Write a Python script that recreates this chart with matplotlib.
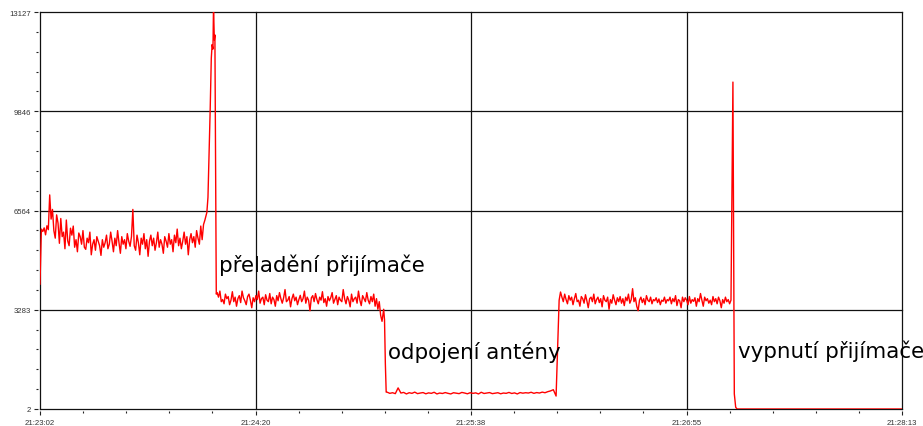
import numpy as np
import matplotlib
matplotlib.use("Agg")
import matplotlib.pyplot as plt
from matplotlib.ticker import AutoMinorLocator, FixedLocator

# Time axis in seconds from 21:23:02
t_start, t_end = 0.0, 311.0
x_tick_labels = ["21:23:02", "21:24:20", "21:25:38", "21:26:55", "21:28:13"]
v_min, v_max = 2, 13127
y_tick_labels = ["2", "3283", "6564", "9846", "13127"]

# Receiver on the original frequency (0.5 s samples from t=0)
seg1_t0, seg1_dt = 0.0, 0.5
seg1 = [4130, 5950, 5870, 5990, 5760, 6060, 5930, 7080, 6280, 6600,
        5900, 5650, 6420, 6150, 5480, 6300, 5700, 5850, 5300, 6250,
        5560, 5400, 5980, 5750, 6050, 5350, 5600, 5200, 5820, 5700,
        5450, 5900, 5350, 5280, 5650, 5500, 5850, 5100, 5450, 5600,
        5250, 5700, 5550, 5400, 5080, 5600, 5350, 5500, 5750, 5300,
        5450, 5850, 5550, 5200, 5650, 5400, 5900, 5500, 5150, 5700,
        5450, 5600, 5300, 5800, 5550, 5380, 5700, 6600, 5400, 5250,
        5750, 5500, 5100, 5650, 5450, 5800, 5300, 5600, 5050, 5550,
        5750, 5400, 5650, 5250, 5500, 5850, 5350, 5600, 5450, 5150,
        5700, 5550, 5350, 5800, 5450, 5600, 5200, 5750, 5500, 5950,
        5400, 5650, 5300, 5550, 5850, 5450, 5700, 5100, 5600, 5800,
        5500, 5700, 5350, 5900, 5650, 5450, 6050, 5600, 6100, 6250]

# Retuning burst
burst1_t = [60.2, 60.6, 61.0, 61.4, 61.8, 62.1, 62.4, 62.6, 62.9, 63.1, 63.4, 63.6]
burst1_v = [6500, 7000, 8400, 9900, 11600, 12050, 11900, 13300, 12200, 12370, 7000, 3800]

# Receiver retuned
seg2_t0, seg2_dt = 63.9, 0.5
seg2 = [3850, 3700, 3900, 3550, 3620, 3480, 3800, 3650, 3720, 3450,
        3600, 3880, 3550, 3700, 3400, 3650, 3750, 3520, 3900, 3680,
        3580, 3450, 3720, 3800, 3600, 3350, 3680, 3550, 3750, 3620,
        3900, 3500, 3650, 3700, 3450, 3780, 3600, 3550, 3820, 3480,
        3700, 3620, 3400, 3750, 3580, 3850, 3650, 3500, 3680, 3950,
        3550, 3600, 3720, 3380, 3650, 3800, 3580, 3700, 3450, 3620,
        3760, 3550, 3650, 3900, 3500, 3700, 3600, 3250, 3680, 3750,
        3550, 3820, 3620, 3480, 3700, 3600, 3880, 3520, 3650, 3400,
        3720, 3580, 3680, 3850, 3500, 3620, 3750, 3450, 3700, 3600,
        3550, 3950, 3650, 3480, 3720, 3600, 3380, 3800, 3550, 3650,
        3700, 3500, 3900, 3600, 3420, 3750, 3650, 3550, 3850, 3600,
        3480, 3720, 3550, 3800, 3400, 3650, 3300, 3550, 3100, 2900]

drop2_t = [124.0, 124.3, 124.6, 124.9]
drop2_v = [3300, 2950, 1500, 560]

# Antenna disconnected (1 s samples)
seg3_t0, seg3_dt = 125.2, 1.0
seg3 = [560, 520, 540, 510, 700, 530, 550, 500, 540, 520,
        560, 510, 530, 545, 505, 535, 520, 555, 500, 530,
        515, 545, 520, 500, 540, 525, 510, 550, 530, 505,
        540, 520, 535, 500, 555, 515, 530, 545, 510, 525,
        540, 505, 530, 520, 550, 515, 535, 500, 545, 525,
        540, 530, 555, 520, 545, 530, 560, 540, 575, 600,
        640, 430]

# Antenna reconnected
seg4_t0, seg4_dt = 187.3, 0.5
seg4 = [3600, 3870, 3700, 3550, 3800, 3620, 3480, 3750, 3600, 3700,
        3450, 3650, 3820, 3550, 3600, 3400, 3720, 3650, 3500, 3780,
        3580, 3350, 3650, 3700, 3550, 3800, 3480, 3620, 3700, 3520,
        3650, 3380, 3750, 3600, 3550, 3700, 3300, 3620, 3500, 3780,
        3600, 3450, 3680, 3550, 3720, 3500, 3650, 3420, 3700, 3580,
        3800, 3500, 3620, 3980, 3550, 3680, 3400, 3250, 3600, 3700,
        3520, 3650, 3450, 3750, 3600, 3550, 3700, 3480, 3620, 3580,
        3680, 3520, 3640, 3450, 3600, 3560, 3700, 3500, 3620, 3580,
        3700, 3480, 3650, 3550, 3750, 3420, 3620, 3580, 3350, 3700,
        3550, 3680, 3600, 3450, 3720, 3500, 3620, 3560, 3680, 3400,
        3650, 3550, 3820, 3600, 3400, 3700, 3580, 3650, 3500, 3600,
        3450, 3720, 3550, 3650, 3480, 3700, 3580, 3350, 3620, 3500,
        3700, 3550, 3620, 3480, 3600]

# Receiver switched off
off_t = [250.0, 250.3, 250.5, 251.0, 251.5, 311.0]
off_v = [10810, 4950, 500, 60, 2, 2]

# Event labels
notes = ["přeladění přijímače", "odpojení antény", "vypnutí přijímače"]
note_t = [64.6, 125.5, 251.9]
note_v = [4563, 1686, 1719]


def seg_times(t0, dt, values):
    return t0 + dt * np.arange(len(values))


t = np.concatenate([seg_times(seg1_t0, seg1_dt, seg1), burst1_t,
                    seg_times(seg2_t0, seg2_dt, seg2), drop2_t,
                    seg_times(seg3_t0, seg3_dt, seg3),
                    seg_times(seg4_t0, seg4_dt, seg4), off_t])
v = np.concatenate([seg1, burst1_v, seg2, drop2_v, seg3, seg4, off_v])

fig = plt.figure(figsize=(9.23, 4.27), dpi=100)
ax = fig.add_axes([40 / 923, 17 / 427, 862 / 923, 397 / 427])

ax.plot(t, v, color="#ff0000", lw=1.0, zorder=3)

ax.set_xlim(t_start, t_end)
ax.set_ylim(v_min, v_max)

ax.xaxis.set_major_locator(FixedLocator(np.linspace(t_start, t_end, len(x_tick_labels))))
ax.set_xticklabels(x_tick_labels)
ax.yaxis.set_major_locator(FixedLocator(np.linspace(v_min, v_max, len(y_tick_labels))))
ax.set_yticklabels(y_tick_labels)
ax.xaxis.set_minor_locator(AutoMinorLocator(5))
ax.yaxis.set_minor_locator(AutoMinorLocator(5))

# Frame comes from the grid; ticks sit slightly away from it
for side in ["top", "right"]:
    ax.spines[side].set_visible(False)
for side in ["left", "bottom"]:
    ax.spines[side].set_position(("outward", 1.5))
    ax.spines[side].set_visible(False)

ax.grid(True, which="major", color="#111111", lw=0.9, clip_on=False, zorder=1)
ax.set_axisbelow(True)

ax.tick_params(which="major", direction="out", length=3.2, width=0.8,
               color="#222222", labelsize=5.6, labelcolor="#333333", pad=2)
ax.tick_params(which="minor", direction="out", length=1.6, width=0.8, color="#222222")
ax.tick_params(axis="x", which="major", pad=2.5)
for lab in ax.get_xticklabels() + ax.get_yticklabels():
    lab.set_fontfamily("Liberation Sans")

for txt, tx, ty in zip(notes, note_t, note_v):
    ax.text(tx, ty, txt, fontsize=15.4, family="DejaVu Sans", color="black",
            ha="left", va="baseline", clip_on=False, zorder=4)

fig.savefig("out.png", dpi=100)
